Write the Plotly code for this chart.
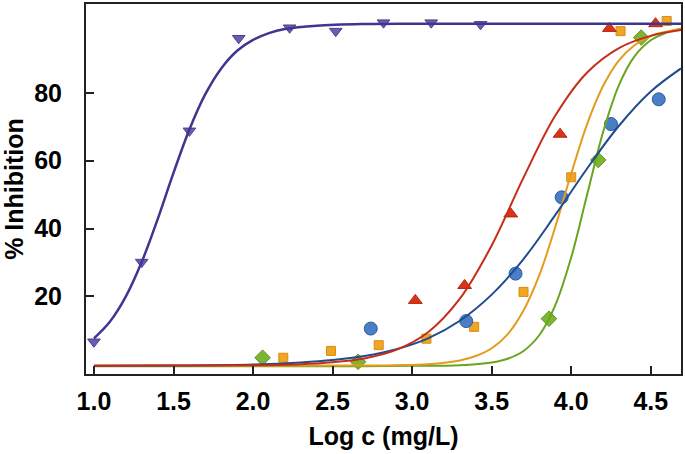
import plotly.graph_objects as go

# ---- data points ----
purple_x = [1.00, 1.30, 1.60, 1.91, 2.23, 2.52, 2.82, 3.12, 3.43]
purple_y = [6.6, 30.1, 68.8, 96.1, 99.2, 98.2, 100.7, 100.7, 100.2]

blue_x = [2.74, 3.34, 3.65, 3.94, 4.25, 4.55]
blue_y = [10.5, 12.7, 26.7, 49.2, 70.8, 78.1]

red_x = [3.02, 3.33, 3.62, 3.93, 4.24, 4.53]
red_y = [18.8, 23.2, 44.3, 67.8, 99.0, 100.4]

orange_x = [2.19, 2.49, 2.79, 3.09, 3.39, 3.70, 4.00, 4.31, 4.60]
orange_y = [1.9, 3.9, 5.6, 7.5, 11.0, 21.3, 55.1, 98.2, 101.2]

green_x = [2.06, 2.66, 3.86, 4.17, 4.44]
green_y = [1.9, 0.7, 13.4, 60.2, 96.3]

# ---- fitted curves ----
purple_fit_x = [1.0, 1.1, 1.2, 1.3, 1.4, 1.5, 1.6, 1.7, 1.8, 1.9, 2.0, 2.1, 2.2, 2.4, 2.7, 3.0, 3.5, 4.0, 4.69]
purple_fit_y = [7.6, 12.5, 19.9, 30.1, 42.7, 56.4, 69.2, 79.6, 87.2, 92.4, 95.6, 97.6, 98.8, 99.8, 100.3, 100.4, 100.4, 100.4, 100.4]

red_fit_x = [1.0, 1.5, 2.0, 2.3, 2.5, 2.7, 2.9, 3.1, 3.3, 3.5, 3.7, 3.9, 4.1, 4.3, 4.5, 4.69]
red_fit_y = [-0.5, -0.4, -0.3, 0.0, 0.6, 1.7, 4.2, 9.4, 19.3, 35.0, 55.0, 73.3, 86.0, 93.2, 96.8, 98.5]

blue_fit_x = [1.0, 1.5, 2.0, 2.3, 2.5, 2.7, 2.9, 3.1, 3.3, 3.5, 3.7, 3.9, 4.1, 4.3, 4.5, 4.69]
blue_fit_y = [-0.5, -0.4, -0.1, 0.5, 1.2, 2.4, 4.4, 7.6, 12.8, 20.5, 31.0, 44.0, 57.7, 70.3, 80.4, 87.2]

orange_fit_x = [1.0, 1.5, 2.0, 2.5, 2.9, 3.1, 3.3, 3.4, 3.5, 3.6, 3.7, 3.8, 3.9, 4.0, 4.1, 4.2, 4.3, 4.4, 4.5, 4.69]
orange_fit_y = [-0.5, -0.5, -0.5, -0.4, -0.3, 0.0, 1.1, 2.4, 4.7, 8.8, 15.8, 26.3, 40.5, 56.2, 70.8, 82.0, 89.6, 94.1, 96.8, 98.8]

green_fit_x = [1.0, 1.5, 2.0, 2.5, 3.0, 3.3, 3.5, 3.6, 3.7, 3.8, 3.9, 4.0, 4.1, 4.2, 4.3, 4.4, 4.5, 4.6, 4.69]
green_fit_y = [-0.6, -0.6, -0.6, -0.6, -0.5, -0.3, 0.5, 1.6, 3.9, 8.6, 17.4, 31.5, 50.0, 68.4, 82.3, 90.9, 95.5, 97.8, 98.9]

x_ticks = [1.0, 1.5, 2.0, 2.5, 3.0, 3.5, 4.0, 4.5]
x_tick_text = ["1.0", "1.5", "2.0", "2.5", "3.0", "3.5", "4.0", "4.5"]
y_ticks = [20, 40, 60, 80]
y_tick_text = ["20", "40", "60", "80"]

fig = go.Figure()

def add_fit(x, y, color, width=2):
    fig.add_trace(go.Scatter(x=x, y=y, mode="lines",
                             line=dict(color=color, width=width, shape="spline", smoothing=1.0),
                             hoverinfo="skip", showlegend=False))

def add_pts(x, y, color, symbol, size, edge):
    fig.add_trace(go.Scatter(x=x, y=y, mode="markers",
                             marker=dict(color=color, symbol=symbol, size=size,
                                         line=dict(color=edge, width=1)),
                             showlegend=False))

# markers
add_pts(orange_x, orange_y, "#F0A526", "square", 9, "#D98E10")
add_pts(green_x, green_y, "#7DB533", "diamond", 12, "#5E9A1E")
add_pts(blue_x, blue_y, "#4A7FC6", "circle", 13, "#2D5C9E")
add_pts(red_x, red_y, "#DA3418", "triangle-up", 12, "#B82410")
add_pts(purple_x, purple_y, "#6C5DB0", "triangle-down", 11, "#4A3F90")

# fits
add_fit(green_fit_x, green_fit_y, "#6AA420")
add_fit(orange_fit_x, orange_fit_y, "#E39C1E")
add_fit(blue_fit_x, blue_fit_y, "#1F4B8F")
add_fit(red_fit_x, red_fit_y, "#C62D18")
add_fit(purple_fit_x, purple_fit_y, "#3E3790", width=2.5)

font_family = "Arial, 'Liberation Sans', sans-serif"

fig.update_layout(
    width=685, height=454,
    margin=dict(l=86, r=2, t=3, b=80),
    plot_bgcolor="white", paper_bgcolor="white",
    font=dict(family=font_family, size=25, color="black", weight="bold"),
    xaxis=dict(
        range=[0.95, 4.69],
        tickvals=x_ticks, ticktext=x_tick_text,
        ticks="inside", ticklen=8, tickwidth=2, tickcolor="#222",
        showline=True, linecolor="#222", linewidth=2, mirror=True,
        showgrid=False, zeroline=False,
        ticklabelstandoff=4,
        tickfont=dict(size=25, family=font_family, weight="bold"),
        title=dict(text="Log c (mg/L)", font=dict(size=25, family=font_family, weight="bold"), standoff=13),
    ),
    yaxis=dict(
        range=[-2.9, 106.2],
        tickvals=y_ticks, ticktext=y_tick_text,
        ticks="inside", ticklen=8, tickwidth=2, tickcolor="#222",
        showline=True, linecolor="#222", linewidth=2, mirror=True,
        showgrid=False, zeroline=False,
        ticklabelstandoff=17,
        tickfont=dict(size=25, family=font_family, weight="bold"),
        title=dict(text="% Inhibition", font=dict(size=25, family=font_family, weight="bold"), standoff=8),
    ),
)

fig.write_html("out.html",
               config={"displayModeBar": False},
               post_script="document.body.style.margin='0';document.body.style.padding='0';")
